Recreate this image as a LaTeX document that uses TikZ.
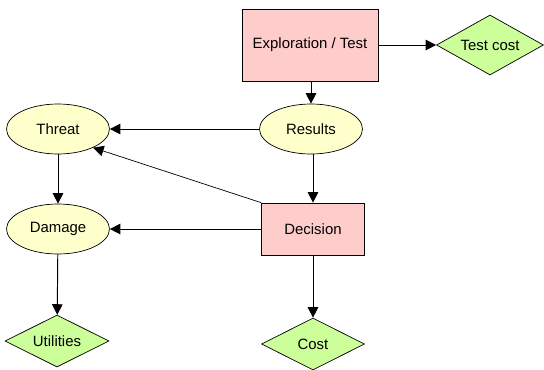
\documentclass[tikz,border=0pt]{standalone}
\usepackage{fontspec}
\setmainfont{Liberation Sans}
\usetikzlibrary{shapes.geometric,arrows.meta}
\definecolor{boxpink}{RGB}{255,204,204}
\definecolor{ovalyellow}{RGB}{255,255,204}
\definecolor{diagreen}{RGB}{204,255,153}
\tikzset{
  decbox/.style={rectangle,draw=black,fill=boxpink,font=\fontsize{8.5}{10}\selectfont},
  chance/.style={ellipse,draw=black,fill=ovalyellow,minimum width=2.06cm,minimum height=1cm,inner sep=0pt,font=\fontsize{8.5}{10}\selectfont},
  value/.style={diamond,aspect=2,draw=black,fill=diagreen,inner sep=0pt,font=\fontsize{8.5}{10}\selectfont},
  link/.style={-{Triangle[length=6pt,width=6pt]},line width=0.55pt},
}
\begin{document}
\begin{tikzpicture}[x=0.02cm,y=-0.02cm]
   \useasboundingbox (0,0) rectangle (544,369);
   \node[decbox,minimum width=2.72cm,minimum height=1.44cm] (explore) at (310,45) {Exploration / Test};
   \node[value,minimum width=2.14cm,minimum height=1.2cm] (testcost) at (490,45) {Test cost};
   \node[chance] (results) at (311,129) {Results};
   \node[chance] (threat) at (58,129) {Threat};
   \node[decbox,minimum width=2.06cm,minimum height=1.04cm] (decision) at (313,229) {Decision};
   \node[chance] (damage) at (58,229) {Damage};
   \node[value,minimum width=2.08cm,minimum height=1.04cm] (utilities) at (57,341) {Utilities};
   \node[value,minimum width=2.06cm,minimum height=1.04cm] (cost) at (313,344) {Cost};
   \draw[link] (explore) -- (testcost);
   \draw[link] (explore.south -| results.north) -- (results.north);
   \draw[link] (results) -- (threat);
   \draw[link] (results.south -| decision.north) -- (decision.north);
   \draw[link,line width=0.4pt] (decision.north west) -- (threat.-28);
   \draw[link] (decision) -- (damage);
   \draw[link] (threat) -- (damage);
   \draw[link] (damage) -- (utilities);
   \draw[link] (decision) -- (cost);
  \end{tikzpicture}
\end{document}
